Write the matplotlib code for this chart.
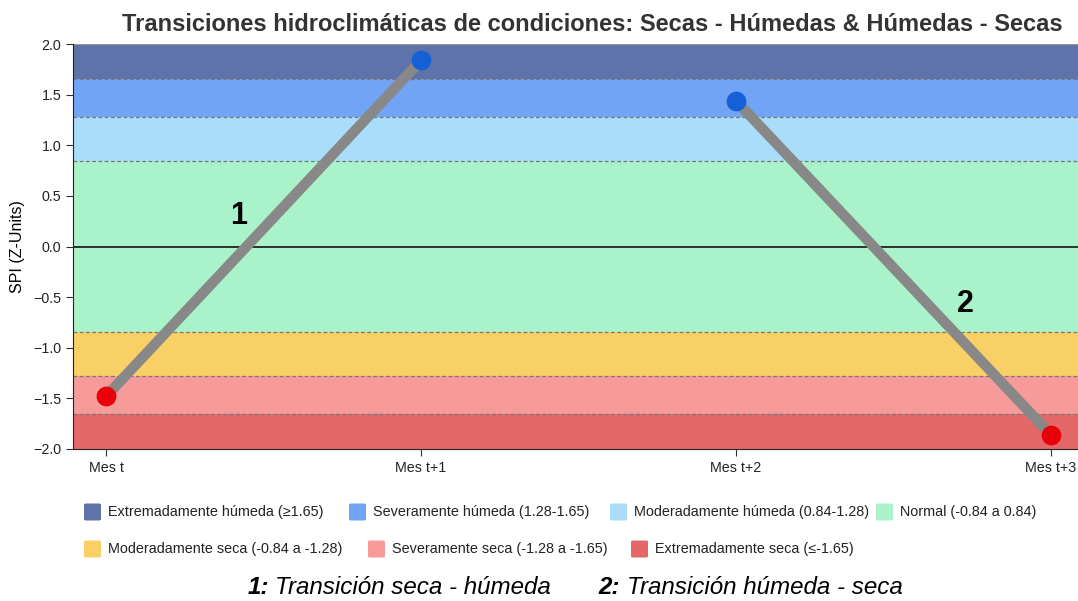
import matplotlib.pyplot as plt
from matplotlib.patches import FancyBboxPatch

plt.rcParams['font.family'] = ['Liberation Sans', 'DejaVu Sans']

# data
months = ['Mes t', 'Mes t+1', 'Mes t+2', 'Mes t+3']
trans1_x = [0, 1]
trans1_y = [-1.48, 1.84]
trans2_x = [2, 3]
trans2_y = [1.44, -1.86]

band_edges = [(1.65, 2.0), (1.28, 1.65), (0.84, 1.28), (-0.84, 0.84),
              (-1.28, -0.84), (-1.65, -1.28), (-2.0, -1.65)]
band_colors = ['#5f73ab', '#72a4f5', '#a9ddf9', '#aaf2c9',
               '#f9d066', '#f69a9a', '#e46868']
band_labels = ['Extremadamente húmeda (≥1.65)', 'Severamente húmeda (1.28-1.65)',
               'Moderadamente húmeda (0.84-1.28)', 'Normal (-0.84 a 0.84)',
               'Moderadamente seca (-0.84 a -1.28)', 'Severamente seca (-1.28 a -1.65)',
               'Extremadamente seca (≤-1.65)']
boundaries = [1.65, 1.28, 0.84, -0.84, -1.28, -1.65]

fig = plt.figure(figsize=(10.78, 6.01), dpi=100)
ax = fig.add_axes([73 / 1078, 1 - 449 / 601, 1 - 73 / 1078, 405 / 601])

for (lo, hi), c in zip(band_edges, band_colors):
    ax.axhspan(lo, hi, color=c, lw=0, zorder=0)
for b in boundaries:
    ax.axhline(b, color='#777777', lw=0.9, ls=(0, (3, 2)), zorder=1)
ax.axhline(2.0, color='#999999', lw=0.8, zorder=1)
ax.axhline(0, color='#222222', lw=1.3, zorder=2)

ax.plot(trans1_x, trans1_y, color='#888888', lw=7.5, solid_capstyle='butt', zorder=3)
ax.plot(trans2_x, trans2_y, color='#888888', lw=7.5, solid_capstyle='butt', zorder=3)
ax.scatter([trans1_x[0], trans2_x[1]], [trans1_y[0], trans2_y[1]], s=175, color='#e8000a', zorder=4)
ax.scatter([trans1_x[1], trans2_x[0]], [trans1_y[1], trans2_y[0]], s=175, color='#1560d6', zorder=4)

ax.text(0.42, 0.3, '1', fontsize=22, fontweight='bold', ha='center', va='center', zorder=5)
ax.text(2.73, -0.57, '2', fontsize=22, fontweight='bold', ha='center', va='center', zorder=5)

ax.set_xlim(-0.105, 3.086)
ax.set_ylim(-2.0, 2.0)
ax.set_xticks(range(len(months)))
ax.set_xticklabels(months)
ax.set_yticks([-2.0, -1.5, -1.0, -0.5, 0.0, 0.5, 1.0, 1.5, 2.0])
ax.set_yticklabels([f'{v:.1f}'.replace('-', '\u2212') for v in ax.get_yticks()])
ax.tick_params(labelsize=10.3, length=5, color='#333333', labelcolor='#222222')
for s in ['top', 'right']:
    ax.spines[s].set_visible(False)
ax.spines['left'].set_color('#222222')
ax.spines['bottom'].set_color('#222222')
ax.set_ylabel('SPI (Z-Units)', fontsize=11.5, labelpad=6)

fig.text(0.549, 0.96, 'Transiciones hidroclimáticas de condiciones: Secas - Húmedas & Húmedas - Secas',
         fontsize=17, fontweight='bold', color='#333333', ha='center', va='center')

# legend (flow layout)
row_pos = [(84, 512), (349, 512), (610, 512), (876, 512),
           (84, 549), (368, 549), (631, 549)]
for (px, py), c, lab in zip(row_pos, band_colors, band_labels):
    fx, fy = px / 1078, 1 - py / 601
    w, h = 17 / 1078, 17 / 601
    fig.patches.append(FancyBboxPatch((fx, fy - h / 2), w, h,
                                      boxstyle='round,pad=0,rounding_size=0.002',
                                      transform=fig.transFigure, color=c, lw=0))
    fig.text(fx + 24 / 1078, fy, lab, fontsize=10.4, color='#222222', va='center', ha='left')

fig.text(248 / 1078, 1 - 588 / 601, '1:', fontsize=17.4, fontweight='bold', style='italic', va='center')
fig.text(275 / 1078, 1 - 588 / 601, 'Transición seca - húmeda', fontsize=17.4, style='italic', va='center')
fig.text(598 / 1078, 1 - 588 / 601, '2:', fontsize=17.4, fontweight='bold', style='italic', va='center')
fig.text(627 / 1078, 1 - 588 / 601, 'Transición húmeda - seca', fontsize=17.4, style='italic', va='center')

fig.savefig('out.png', dpi=100)
